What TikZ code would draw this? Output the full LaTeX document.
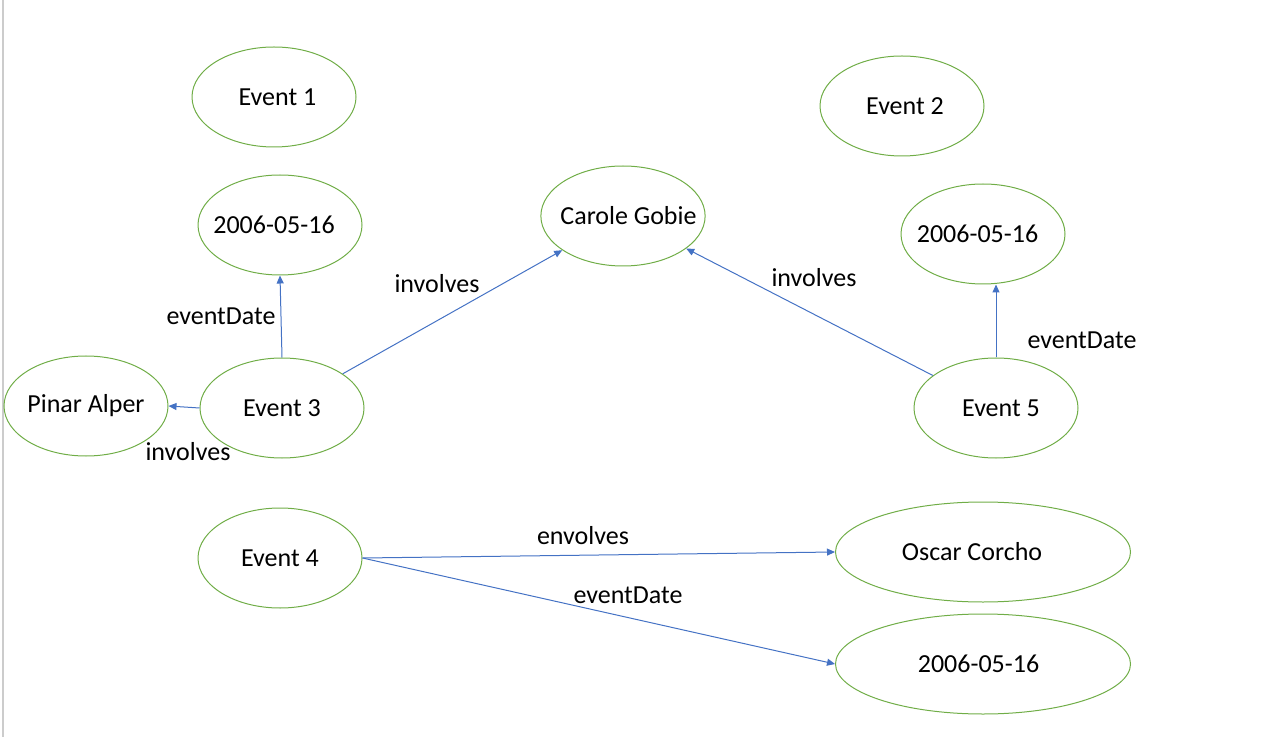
\documentclass[tikz,border=0pt]{standalone}
\usepackage{fontspec}
\setmainfont{Carlito}
\usetikzlibrary{arrows.meta,shapes.geometric}
\definecolor{ovalgreen}{RGB}{112,173,71}
\definecolor{arcblue}{RGB}{68,114,196}

\begin{document}
\begin{tikzpicture}[x=0.5pt,y=-0.5pt,>={Triangle[length=4pt,width=3.5pt]}]

	\tikzstyle{ent}      = [ellipse, draw=ovalgreen, line width=0.5pt, minimum width=82pt, minimum height=50pt, inner xsep=-5pt, inner ysep=0pt, font=\fontsize{13}{15}\selectfont]
	\tikzstyle{wide ent} = [ent, minimum width=147.5pt]
	\tikzstyle{arc}      = [->, draw=arcblue, line width=0.5pt]
	\tikzstyle{rel}      = [inner sep=0pt, font=\fontsize{13}{15}\selectfont]
	\tikzset{nudge/.style={execute at begin node=\hspace*{#1}, execute at end node=\hspace*{-#1}}}

	\useasboundingbox (0,0) rectangle (1273,737);
	\draw [line width=1pt, black!20] (2.5,0) -- (2.5,737);

	% events
	\node [ent, nudge=1.75pt] (ev1) at (274,97)  {Event 1};
	\node [ent, nudge=1.5pt]  (ev2) at (902,106) {Event 2};
	\node [ent] (ev3) at (282,408) {Event 3};
	\node [ent] (ev4) at (280,558) {Event 4};
	\node [ent, nudge=2.5pt]  (ev5) at (996,408) {Event 5};

	% values
	\node [ent, nudge=-3pt]    (date1)  at (280,225) {2006-05-16};
	\node [ent, nudge=-2.75pt] (date2)  at (983,234) {2006-05-16};
	\node [ent, nudge=2.75pt]  (carole) at (623,216) {Carole Gobie};
	\node [ent] (pinar)  at (86,406)  {Pinar Alper};
	\node [wide ent, nudge=-5.5pt]  (oscar) at (983,552) {Oscar Corcho};
	\node [wide ent, nudge=-2.25pt] (date3) at (983,664) {2006-05-16};

	% relations
	\draw [arc] (ev3.north) -- (date1.south);
	\draw [arc] (ev3) -- (carole);
	\draw [arc] (ev3.west) -- (pinar.east);
	\draw [arc] (ev5) -- (carole);
	\draw [arc] (ev5.north) -- (ev5.north |- date2.south);
	\draw [arc] (ev4.east) -- (oscar.west);
	\draw [arc] (ev4.east) -- (date3.west);

	\node [rel] (lbl1) at (221,316)  {eventDate};
	\node [rel] (lbl2) at (437,284)  {involves};
	\node [rel] (lbl3) at (188,452)  {involves};
	\node [rel] (lbl4) at (814,278)  {involves};
	\node [rel] (lbl5) at (1082,340) {eventDate};
	\node [rel] (lbl6) at (583,536)  {envolves};
	\node [rel] (lbl7) at (628,595)  {eventDate};

\end{tikzpicture}
\end{document}
